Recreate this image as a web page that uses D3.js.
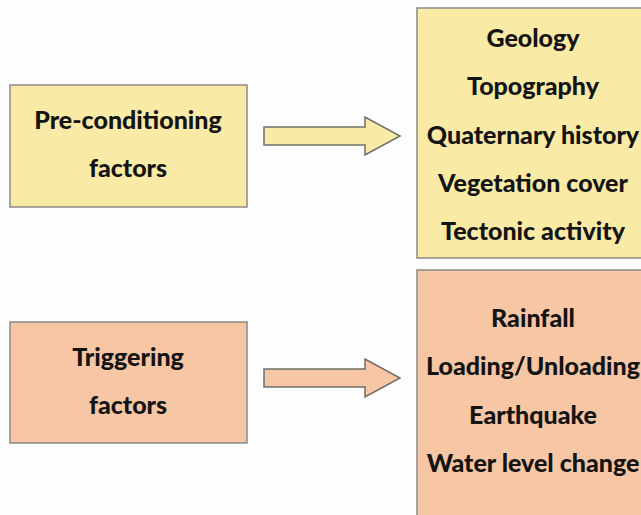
<!DOCTYPE html>
<html>
<head>
<meta charset="utf-8">
<script src="https://cdn.jsdelivr.net/npm/d3@7"></script>
<style>
  html, body { margin: 0; padding: 0; background: #fdfdfd; }
  svg { display: block; }
</style>
</head>
<body>
<div id="chart"></div>
<script>
const groups = ['Pre-conditioning factors', 'Triggering factors']
const groupLabels = [['Pre-conditioning', 'factors'], ['Triggering', 'factors']]
const preconditioning = ['Geology', 'Topography', 'Quaternary history', 'Vegetation cover', 'Tectonic activity']
const triggering = ['Rainfall', 'Loading/Unloading', 'Earthquake', 'Water level change']
const fills = ['#f9eba6', '#f6c6a5']

const width = 641
const height = 515
const font = 'Lato, "Open Sans", sans-serif'

const svg = d3.select('#chart')
  .append('svg')
  .attr('width', width)
  .attr('height', height)

const rows = [
  { left: [85, 207], right: [8, 258], arrowY: 136, lineY: 37, items: preconditioning },
  { left: [322, 443], right: [270, 530], arrowY: 378, lineY: 317, items: triggering }
]

rows.forEach((r, i) => {
  const g = svg.append('g')

  // left box
  g.append('rect')
    .attr('x', 10).attr('y', r.left[0])
    .attr('width', 237).attr('height', r.left[1] - r.left[0])
    .attr('fill', fills[i]).attr('stroke', '#8a8a86').attr('stroke-width', 1.5)

  const mid = (r.left[0] + r.left[1]) / 2
  g.selectAll('text.lbl')
    .data(groupLabels[i])
    .enter().append('text')
    .attr('class', 'lbl')
    .attr('x', 128)
    .attr('y', (d, j) => mid - 27 + j * 48)
    .attr('text-anchor', 'middle')
    .attr('dominant-baseline', 'central')
    .style('font-family', font).style('font-weight', '900').style('font-size', '25px')
    .attr('fill', '#141414')
    .text(d => d)

  // arrow
  const cy = r.arrowY
  const arrow = d3.line()([
    [264, cy - 9], [365, cy - 9], [365, cy - 19], [400, cy],
    [365, cy + 19], [365, cy + 9], [264, cy + 9]
  ]) + 'Z'
  g.append('path')
    .attr('d', arrow)
    .attr('fill', fills[i]).attr('stroke', '#6e6e68').attr('stroke-width', 1.5)
    .attr('stroke-linejoin', 'miter')

  // right box
  g.append('rect')
    .attr('x', 417).attr('y', r.right[0])
    .attr('width', 240).attr('height', r.right[1] - r.right[0])
    .attr('fill', fills[i]).attr('stroke', '#8a8a86').attr('stroke-width', 1.5)

  const y = d3.scalePoint()
    .domain(r.items)
    .range([r.lineY, r.lineY + 48.3 * (r.items.length - 1)])

  g.selectAll('text.item')
    .data(r.items)
    .enter().append('text')
    .attr('class', 'item')
    .attr('x', 533)
    .attr('y', d => y(d))
    .attr('text-anchor', 'middle')
    .attr('dominant-baseline', 'central')
    .style('font-family', font).style('font-weight', '900').style('font-size', '25px')
    .attr('fill', '#141414')
    .text(d => d)
})
</script>
</body>
</html>
